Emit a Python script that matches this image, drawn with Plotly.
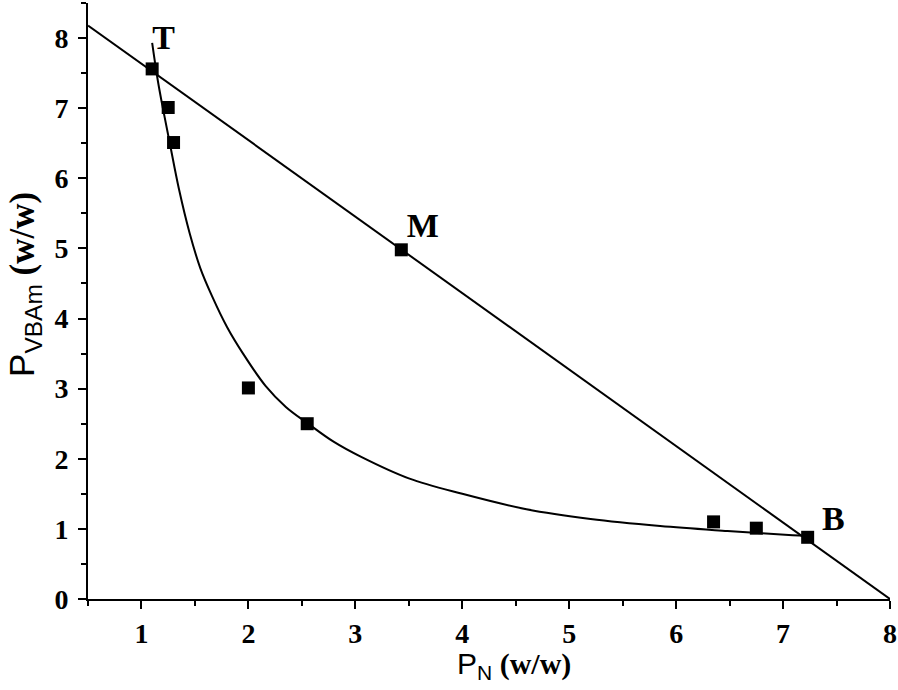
import plotly.graph_objects as go

# measured data points (P_N, P_VBAm)
pts_x = [1.10, 1.25, 1.30, 2.00, 2.55, 3.43, 6.35, 6.75, 7.23]
pts_y = [7.56, 7.01, 6.51, 3.01, 2.50, 4.98, 1.10, 1.01, 0.88]

# fitted curve
curve_x = [1.10, 1.15, 1.20, 1.265, 1.35, 1.45, 1.55, 1.66, 1.80, 1.95, 2.16, 2.35, 2.55,
           2.80, 3.05, 3.50, 4.00, 4.60, 5.20, 5.85, 6.48, 7.09, 7.22]
curve_y = [7.93, 7.42, 7.00, 6.50, 5.85, 5.22, 4.72, 4.32, 3.88, 3.50, 3.04, 2.74, 2.51,
           2.24, 2.03, 1.72, 1.50, 1.28, 1.14, 1.04, 0.97, 0.91, 0.90]

# straight line (TB line)
line_x = [0.5, 8.0]
line_y = [8.18, 0.0]

# point labels
lab_text = ["T", "M", "B"]
lab_x = [1.206, 3.63, 7.47]
lab_y = [7.97, 5.28, 1.11]

x_ticks = [1, 2, 3, 4, 5, 6, 7, 8]
y_ticks = [0, 1, 2, 3, 4, 5, 6, 7, 8]

x_title = "<span style='font-family:Liberation Sans'>P<sub>N</sub></span> <b>(w/w)</b>"
y_title = "<span style='font-family:Liberation Sans'>P<sub>VBAm</sub></span> <b>(w/w)</b>"

serif = "Liberation Serif, Times New Roman, serif"

fig = go.Figure()
fig.add_trace(go.Scatter(x=line_x, y=line_y, mode="lines",
                         line=dict(color="black", width=2), showlegend=False))
fig.add_trace(go.Scatter(x=curve_x, y=curve_y, mode="lines", line_shape="spline",
                         line=dict(color="black", width=2, smoothing=1.0), showlegend=False))
fig.add_trace(go.Scatter(x=pts_x, y=pts_y, mode="markers",
                         marker=dict(symbol="square", size=13, color="black"),
                         showlegend=False))
fig.add_trace(go.Scatter(x=lab_x, y=lab_y, mode="text", text=lab_text,
                         textfont=dict(family=serif, size=34, color="black"),
                         texttemplate="<b>%{text}</b>", showlegend=False))

axis_common = dict(
    showline=True, linecolor="black", linewidth=2,
    ticks="outside", ticklen=8, tickwidth=2, tickcolor="black",
    showgrid=False, zeroline=False, automargin=False,
    tickfont=dict(family=serif, size=28, color="black", weight="bold"),
    minor=dict(ticks="outside", ticklen=5, tickwidth=2, tickcolor="black", dtick=0.5),
)

fig.update_xaxes(range=[0.5, 8.0], tickvals=x_ticks, tick0=0, dtick=1, **axis_common)
fig.update_yaxes(range=[0, 8.5], tickvals=y_ticks, tick0=0, dtick=1,
                 ticklabelstandoff=4, **axis_common)

fig.add_annotation(text=x_title, xref="paper", yref="paper", x=0.531, y=-0.111,
                   xanchor="center", yanchor="middle", showarrow=False,
                   font=dict(family=serif, size=30, color="black"))
fig.add_annotation(text=y_title, xref="paper", yref="paper", x=-0.079, y=0.528,
                   xanchor="center", yanchor="middle", showarrow=False, textangle=-90,
                   font=dict(family=serif, size=35, color="black"))

fig.update_layout(
    width=898, height=690,
    margin=dict(l=88, r=8, t=3, b=91),
    plot_bgcolor="white", paper_bgcolor="white",
)

fig.write_html("out.html", config={"displayModeBar": False},
               post_script="document.body.style.margin='0';")
